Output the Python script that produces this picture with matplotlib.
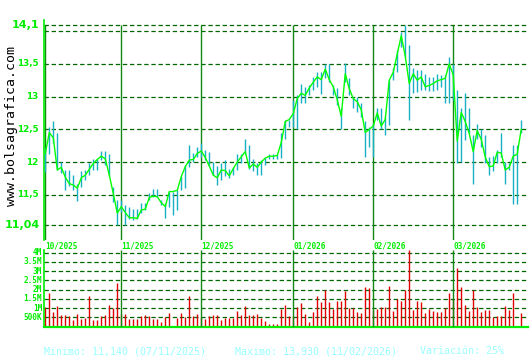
import matplotlib
matplotlib.use('Agg')
import matplotlib.pyplot as plt

# daily data, Oct 2025 -> Mar 2026 (one entry per trading session)
close = [
    12.13, 12.45, 12.37, 11.88, 11.92, 11.77, 11.67, 11.65, 11.60, 11.76,
    11.80, 11.89, 11.98, 12.04, 12.09, 12.05, 11.80, 11.52, 11.22, 11.32,
    11.23, 11.15, 11.15, 11.14, 11.27, 11.28, 11.46, 11.48, 11.47, 11.38,
    11.32, 11.55, 11.55, 11.57, 11.78, 11.93, 12.03, 12.04, 12.13, 12.17,
    12.07, 11.94, 11.80, 11.76, 11.88, 11.87, 11.79, 11.90, 12.00, 12.08,
    12.16, 11.91, 11.97, 11.92, 12.00, 12.06, 12.09, 12.09, 12.10, 12.30,
    12.62, 12.65, 12.74, 12.97, 13.05, 13.02, 13.13, 13.22, 13.30, 13.26,
    13.42, 13.26, 13.15, 12.95, 12.70, 13.35, 13.12, 12.97, 12.92, 12.80,
    12.45, 12.50, 12.55, 12.75, 12.55, 12.65, 13.25, 13.37, 13.65, 13.93,
    13.62, 13.20, 13.35, 13.25, 13.30, 13.15, 13.17, 13.20, 13.24, 13.26,
    13.28, 13.50, 13.33, 12.32, 12.76, 12.62, 12.44, 12.16, 12.48, 12.35,
    12.08, 11.93, 11.94, 12.15, 12.14, 11.88, 11.92, 12.09, 12.12, 12.50,
]
high = [
    12.21, 12.54, 12.63, 12.44, 12.00, 11.88, 11.88, 11.80, 11.67, 11.86,
    11.88, 11.99, 12.05, 12.05, 12.17, 12.17, 12.12, 11.62, 11.42, 11.42,
    11.34, 11.31, 11.29, 11.29, 11.37, 11.37, 11.53, 11.59, 11.59, 11.42,
    11.37, 11.55, 11.55, 11.57, 11.78, 11.95, 12.26, 12.14, 12.23, 12.29,
    12.19, 12.16, 12.00, 11.94, 11.99, 12.03, 11.90, 11.93, 12.13, 12.13,
    12.36, 12.26, 12.05, 11.98, 12.03, 12.06, 12.13, 12.12, 12.12, 12.44,
    12.64, 12.65, 12.95, 13.02, 13.20, 13.15, 13.17, 13.30, 13.38, 13.37,
    13.50, 13.50, 13.17, 13.13, 12.82, 13.51, 13.28, 13.00, 13.00, 12.90,
    12.62, 12.53, 12.59, 12.83, 12.83, 12.69, 13.25, 13.43, 13.71, 13.99,
    14.10, 13.79, 13.43, 13.41, 13.41, 13.35, 13.30, 13.30, 13.35, 13.33,
    13.33, 13.61, 13.50, 13.10, 12.82, 13.05, 12.82, 12.41, 12.58, 12.51,
    12.41, 12.08, 12.10, 12.18, 12.44, 12.00, 11.98, 12.26, 12.26, 12.64,
]
low = [
    11.85, 12.13, 12.29, 11.88, 11.83, 11.57, 11.64, 11.57, 11.41, 11.62,
    11.73, 11.80, 11.88, 11.88, 12.03, 11.96, 11.78, 11.39, 11.04, 11.24,
    11.04, 11.13, 11.11, 11.13, 11.22, 11.27, 11.42, 11.47, 11.47, 11.34,
    11.15, 11.32, 11.19, 11.27, 11.57, 11.60, 11.93, 12.00, 12.08, 12.08,
    12.03, 11.94, 11.80, 11.65, 11.73, 11.78, 11.75, 11.80, 11.88, 11.98,
    12.13, 11.90, 11.86, 11.80, 11.80, 11.96, 12.05, 12.05, 12.05, 12.06,
    12.35, 12.54, 12.54, 12.51, 12.90, 12.90, 13.02, 13.10, 13.15, 13.04,
    13.28, 13.23, 13.03, 12.87, 12.50, 13.23, 13.03, 12.83, 12.77, 12.69,
    12.08, 12.23, 12.08, 12.64, 12.51, 12.41, 12.56, 13.25, 13.38, 13.76,
    13.60, 12.64, 13.05, 13.07, 13.10, 13.10, 13.08, 13.08, 13.10, 13.15,
    12.90, 12.90, 12.95, 11.98, 12.00, 12.34, 12.44, 11.67, 12.36, 12.23,
    11.98, 11.80, 11.86, 11.98, 12.08, 11.67, 11.88, 11.36, 11.36, 12.44,
]
# volume in millions of shares
volume = [
    1.06, 1.80, 0.80, 1.11, 0.61, 0.65, 0.57, 0.35, 0.69, 0.41,
    0.46, 1.63, 0.35, 0.35, 0.56, 0.61, 1.19, 1.00, 2.37, 0.70,
    0.69, 0.41, 0.41, 0.41, 0.56, 0.61, 0.56, 0.41, 0.41, 0.24,
    0.50, 0.74, 0.02, 0.46, 0.74, 0.50, 1.63, 0.56, 0.69, 0.50,
    0.41, 0.56, 0.61, 0.61, 0.35, 0.46, 0.46, 0.46, 0.85, 0.61,
    1.11, 0.61, 0.61, 0.69, 0.46, 0.30, 0.13, 0.13, 0.13, 0.96,
    1.19, 0.57, 0.56, 1.07, 1.30, 0.69, 0.24, 0.80, 1.63, 1.35,
    1.98, 1.35, 0.96, 1.41, 1.41, 1.91, 1.00, 1.00, 0.80, 0.74,
    2.13, 2.07, 0.90, 0.96, 1.07, 1.07, 2.19, 0.85, 1.48, 1.41,
    1.98, 4.13, 0.91, 1.41, 1.35, 0.74, 0.96, 0.85, 0.80, 0.80,
    1.00, 1.80, 1.50, 3.19, 2.13, 1.19, 0.85, 1.98, 1.07, 0.80,
    0.91, 0.91, 0.50, 0.57, 0.57, 1.13, 0.91, 1.80, 0.05, 0.74,
]

month_idx = [0, 19, 39, 62, 82, 102]
month_labels = ['10/2025', '11/2025', '12/2025', '01/2026', '02/2026', '03/2026']

price_grid = [11.04, 11.5, 12, 12.5, 13, 13.5, 14, 14.1]
price_small = [(13.5, '13,5'), (13, '13'), (12.5, '12,5'), (12, '12'), (11.5, '11,5')]
price_big = [(14.1, '14,1'), (11.04, '11,04')]
vol_ticks = [0.5, 1, 1.5, 2, 2.5, 3, 3.5, 4]
vol_labels = ['500K', '1M', '1.5M', '2M', '2.5M', '3M', '3.5M', '4M']

footer = ['Minimo: 11,140 (07/11/2025)', 'Maximo: 13,930 (11/02/2026)', 'Variación: 25%']

BRIGHT = '#00ee00'
DARK = '#006600'
MONTH = '#118811'
TEAL = '#18b0c4'
dash = (0, (3.5, 2.2))

x = list(range(len(close)))
W, H = 530, 360
fig = plt.figure(figsize=(W / 100, H / 100), dpi=100)

def px_box(left, top, right, bottom):
    return [left / W, 1 - bottom / H, (right - left) / W, (bottom - top) / H]

xlim = (-0.45, 120.7)

# ---- price panel
ax = fig.add_axes(px_box(43.5, 20, 528, 240))
ax.set_xlim(*xlim)
ax.set_ylim(10.81, 14.17)
for v in price_grid:
    ax.axhline(v, color=DARK, lw=0.9, linestyle=dash, zorder=1)
ax.vlines(month_idx, 10.81, 14.1, color=MONTH, lw=1.0, zorder=2)
ax.vlines(x, low, high, color=TEAL, lw=1.0, zorder=3)
ax.plot(x, close, color='#00ff00', lw=1.0, zorder=4)
for s in ['top', 'right', 'bottom']:
    ax.spines[s].set_visible(False)
ax.spines['left'].set_color(BRIGHT)
ax.spines['left'].set_linewidth(1.2)
ax.set_xticks([])
ax.set_yticks([])
for v, t in price_small:
    ax.text(-0.01, v, t, transform=ax.get_yaxis_transform(), ha='right', va='center',
            color=BRIGHT, fontsize=6.3, fontweight='bold', family='DejaVu Sans')
for v, t in price_big:
    ax.text(-0.008, v, t, transform=ax.get_yaxis_transform(), ha='right', va='center',
            color=BRIGHT, fontsize=8, fontweight='bold', family='DejaVu Sans')
for i, t in zip(month_idx, month_labels):
    ax.text(i + 0.1, -0.008, t, transform=ax.get_xaxis_transform(), ha='left', va='top',
            color=BRIGHT, fontsize=5.6, fontweight='bold', family='DejaVu Sans Mono', clip_on=False)

# ---- volume panel
axv = fig.add_axes(px_box(43.5, 250, 528, 326.5))
axv.set_xlim(*xlim)
axv.set_ylim(0, 4.15)
for v in vol_ticks:
    axv.axhline(v, color=DARK, lw=0.9, linestyle=dash, zorder=1)
axv.vlines(x, 0, volume, color='#e00000', lw=1.0, zorder=2)
axv.vlines(month_idx[1:], 0, 4.15, color=MONTH, lw=1.0, zorder=3)
for s in ['top', 'right']:
    axv.spines[s].set_visible(False)
for s in ['left', 'bottom']:
    axv.spines[s].set_color(BRIGHT)
axv.spines['left'].set_linewidth(1.2)
axv.spines['bottom'].set_linewidth(1.6)
axv.set_xticks([])
axv.set_yticks([])
for v, t in zip(vol_ticks, vol_labels):
    axv.text(-0.003, v, t, transform=axv.get_yaxis_transform(), ha='right', va='center',
             color=BRIGHT, fontsize=5.6, fontweight='bold', family='DejaVu Sans Mono')

# watermark and footer
fig.text(11.5 / W, 1 - 126 / H, 'www.bolsagrafica.com', rotation=90, ha='center', va='center',
         fontsize=9.5, family='DejaVu Sans Mono', color='black')
for xpos, t in zip([44, 235, 420], footer):
    fig.text(xpos / W, 1 - 351 / H, t, ha='left', va='center', fontsize=7.2,
             family='DejaVu Sans Mono', color='#99ffff')

fig.savefig('out.png', dpi=100, facecolor='white')
